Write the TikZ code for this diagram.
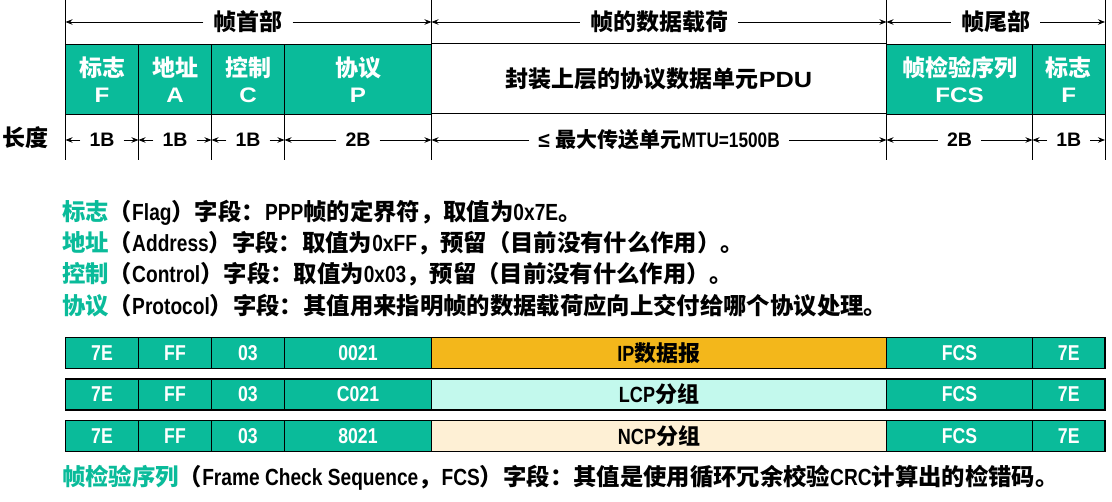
\documentclass[tikz,border=0pt]{standalone}
\usepackage{fontspec}
\setmainfont{Noto Sans CJK SC}
\newfontfamily\lat{Liberation Sans}
\newfontfamily\latn{Liberation Sans}[FakeStretch=0.82]
\newfontfamily\latw{Liberation Sans}[FakeStretch=1.15]
\usetikzlibrary{arrows.meta}
\definecolor{grn}{HTML}{0ABB9A}
\definecolor{ipor}{HTML}{F3B71B}
\definecolor{lcy}{HTML}{C3F9ED}
\definecolor{crm}{HTML}{FEF0D5}
\newcommand\fsz[2]{\fontsize{#1}{#2}\selectfont}
\begin{document}
\begin{tikzpicture}[x=1pt,y=-1pt,
  guide/.style={line width=0.8pt},
  dimarrow/.style={-{Stealth[length=7pt,width=5.5pt]}, line width=0.8pt},
  hdr/.style={font=\bfseries\fsz{23}{27}, inner xsep=10pt, inner ysep=2pt},
  lenlab/.style={font=\bfseries\fsz{21}{24}, inner xsep=9pt, inner ysep=2pt},
  fld/.style={draw=black, line width=0.8pt, fill=grn, text=white, font=\bfseries\fsz{23}{26}, align=center, inner sep=0pt, minimum height=69.5pt},
  pay/.style={fld, fill=white, text=black},
  body/.style={anchor=west, font=\bfseries\fsz{23.35}{27}, inner sep=0pt},
  cell/.style={draw=black, line width=1.5pt, fill=grn, text=white, font=\bfseries\fsz{21.5}{24}, inner sep=0pt, minimum height=31pt},
]
\useasboundingbox (0,0) rectangle (1112,502);

% guide lines
\foreach \x in {65.5,431.5,886.5,1105} \draw[guide] (\x,0) -- (\x,160);
\foreach \x in {138.5,211.5,284.5,1032.5} \draw[guide] (\x,44.5) -- (\x,160);

% header
\coordinate (a0) at (65.5,22);
\coordinate (a4) at (431.5,22);
\coordinate (a5) at (886.5,22);
\coordinate (a7) at (1105,22);
\node[hdr] (H1) at (248,22) {帧首部};
\node[hdr] (H2) at (659,22) {帧的数据载荷};
\node[hdr] (H3) at (995.5,22) {帧尾部};
\draw[dimarrow] (H1) -- (a0);
\draw[dimarrow] (H1) -- (a4);
\draw[dimarrow] (H2) -- (a4);
\draw[dimarrow] (H2) -- (a5);
\draw[dimarrow] (H3) -- (a5);
\draw[dimarrow] (H3) -- (a7);

% fields
\node[fld, minimum width=73pt] (F1) at (102,79.25) {标志\\{\latw\fsz{21}{26}F}};
\node[fld, minimum width=73pt] (F2) at (175,79.25) {地址\\{\latw\fsz{21}{26}A}};
\node[fld, minimum width=73pt] (F3) at (248,79.25) {控制\\{\latw\fsz{21}{26}C}};
\node[fld, minimum width=147pt] (F4) at (358,79.25) {协议\\{\latw\fsz{21}{26}P}};
\node[pay, minimum width=455pt] (F5) at (659,78.5) {封装上层的协议数据单元{\latw\fsz{22}{26}PDU}};
\node[fld, minimum width=146pt] (F6) at (959.5,79.25) {帧检验序列\\{\latw\fsz{21}{26}FCS}};
\node[fld, minimum width=72.5pt] (F7) at (1068.75,79.25) {标志\\{\latw\fsz{21}{26}F}};

% length row
\node[font=\bfseries\fsz{23}{27}] (LEN) at (25,138) {长度};
\foreach \xa/\xb/\t [count=\i] in {65.5/138.5/1B, 138.5/211.5/1B, 211.5/284.5/1B, 284.5/431.5/2B, 886.5/1032.5/2B, 1032.5/1105/1B} {
  \coordinate (la\i) at (\xa,140);
  \coordinate (lb\i) at (\xb,140);
  \node[lenlab] (L\i) at ({(\xa+\xb)/2},140) {\lat\fsz{19.5}{22}\t};
  \draw[dimarrow] (L\i) -- (la\i);
  \draw[dimarrow] (L\i) -- (lb\i);
}
\coordinate (mtua) at (431.5,140);
\coordinate (mtub) at (886.5,140);
\node[lenlab] (MTU) at (659,140) {{\lat ≤ }最大传送单元{\latn\fsz{21}{24}MTU=1500B}};
\draw[dimarrow] (MTU) -- (mtua);
\draw[dimarrow] (MTU) -- (mtub);

% description lines
\node[body] (T1) at (62,213) {{\color{grn}标志}（{\latn Flag}）字段：{\latn PPP}帧的定界符，取值为{\latn 0x7E}。};
\node[body] (T2) at (62,243) {{\color{grn}地址}（{\latn Address}）字段：取值为{\latn 0xFF}，预留（目前没有什么作用）。};
\node[body] (T3) at (62,274) {{\color{grn}控制}（{\latn Control}）字段：取值为{\latn 0x03}，预留（目前没有什么作用）。};
\node[body] (T4) at (62,306) {{\color{grn}协议}（{\latn Protocol}）字段：其值用来指明帧的数据载荷应向上交付给哪个协议处理。};

% example frames
\foreach \y/\code/\pc/\pt [count=\i] in {353/0021/ipor/{{\latn IP}数据报}, 394.5/C021/lcy/{{\latn LCP}分组}, 436/8021/crm/{{\latn NCP}分组}} {
  \node[cell, minimum width=73pt] (R\i-1) at (102,\y) {\latn 7E};
  \node[cell, minimum width=73pt] (R\i-2) at (175,\y) {\latn FF};
  \node[cell, minimum width=73pt] (R\i-3) at (248,\y) {\latn 03};
  \node[cell, minimum width=147pt] (R\i-4) at (358,\y) {\latn \code};
  \node[cell, minimum width=455pt, fill=\pc, text=black, font=\bfseries\fsz{22}{24}] (R\i-5) at (659,\y) {\pt};
  \node[cell, minimum width=146pt] (R\i-6) at (959.5,\y) {\latn FCS};
  \node[cell, minimum width=72.5pt] (R\i-7) at (1068.75,\y) {\latn 7E};
}

\node[body] (T5) at (62,478) {{\color{grn}帧检验序列}（{\latn Frame Check Sequence}，{\latn FCS}）字段：其值是使用循环冗余校验{\latn CRC}计算出的检错码。};
\end{tikzpicture}
\end{document}
